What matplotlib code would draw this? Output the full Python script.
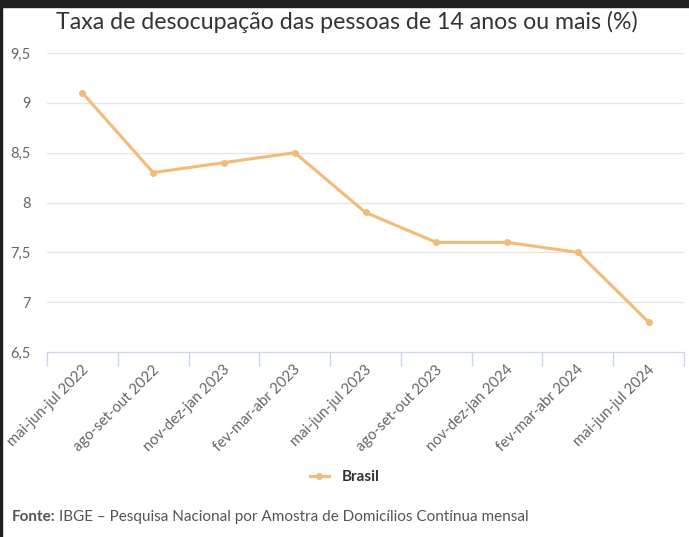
import matplotlib
matplotlib.use('Agg')
import matplotlib.pyplot as plt
from matplotlib.patches import Rectangle
from matplotlib.ticker import FixedLocator, FuncFormatter

periodos = ["mai-jun-jul 2022", "ago-set-out 2022", "nov-dez-jan 2023",
            "fev-mar-abr 2023", "mai-jun-jul 2023", "ago-set-out 2023",
            "nov-dez-jan 2024", "fev-mar-abr 2024", "mai-jun-jul 2024"]
taxa = [9.1, 8.3, 8.4, 8.5, 7.9, 7.6, 7.6, 7.5, 6.8]
yticks = [6.5, 7, 7.5, 8, 8.5, 9, 9.5]

plt.rcParams['font.family'] = ['Lato', 'DejaVu Sans']

fig = plt.figure(figsize=(6.89, 5.37), dpi=100)
W, H = 689, 537
ax = fig.add_axes([47 / W, 1 - 352 / H, (684 - 47) / W, (352 - 53) / H])

x = list(range(len(periodos)))
ax.plot(x, taxa, color='#f2bb78', lw=2.2, marker='o', ms=4, label='Brasil')

ax.set_xlim(-0.5, len(periodos) - 0.5)
ax.set_ylim(6.5, 9.5)
ax.yaxis.set_major_locator(FixedLocator(yticks))
ax.yaxis.set_major_formatter(FuncFormatter(lambda v, p: ('%g' % v).replace('.', ',')))
ax.grid(axis='y', color='#e6e6e6', lw=1)
ax.set_axisbelow(True)
for s in ['top', 'right', 'left']:
    ax.spines[s].set_visible(False)
ax.spines['bottom'].set_color('#ccd6eb')
ax.tick_params(axis='y', length=0, labelsize=10.5, labelcolor='#666666', pad=12)

# ticks between categories
ax.set_xticks([i - 0.5 for i in range(len(periodos) + 1)])
ax.set_xticklabels([])
ax.tick_params(axis='x', length=10, color='#ccd6eb', width=1)
for i, lab in enumerate(periodos):
    ax.text(i - 0.02, -0.035, lab, transform=ax.get_xaxis_transform(),
            rotation=45, ha='right', va='top', rotation_mode='anchor',
            fontsize=10.7, color='#666666')

fig.text(0.503, 1 - 22 / H, 'Taxa de desocupação das pessoas de 14 anos ou mais (%)',
         ha='center', va='center', fontsize=16.7, color='#333333')

leg = fig.legend(loc='center', bbox_to_anchor=(0.5, 1 - 477 / H), frameon=False,
                 handlelength=1.3, prop={'weight': 'bold', 'size': 11})
for t in leg.get_texts():
    t.set_color('#333333')

fig.text(12 / W, 1 - 517 / H, 'Fonte:', fontsize=11, fontweight='bold',
         color='#555555', va='center')
fig.text(59 / W, 1 - 517 / H, 'IBGE – Pesquisa Nacional por Amostra de Domicílios Contínua mensal',
         fontsize=11, color='#555555', va='center')

# dark frame at top and left edges as in the screenshot
fig.patches.append(Rectangle((0, 1 - 7 / H), 1, 7 / H, transform=fig.transFigure,
                             color='#1e1e1e', zorder=10))
fig.patches.append(Rectangle((0, 0), 2 / W, 1, transform=fig.transFigure,
                             color='#1e1e1e', zorder=10))

fig.savefig('out.png', dpi=100)
